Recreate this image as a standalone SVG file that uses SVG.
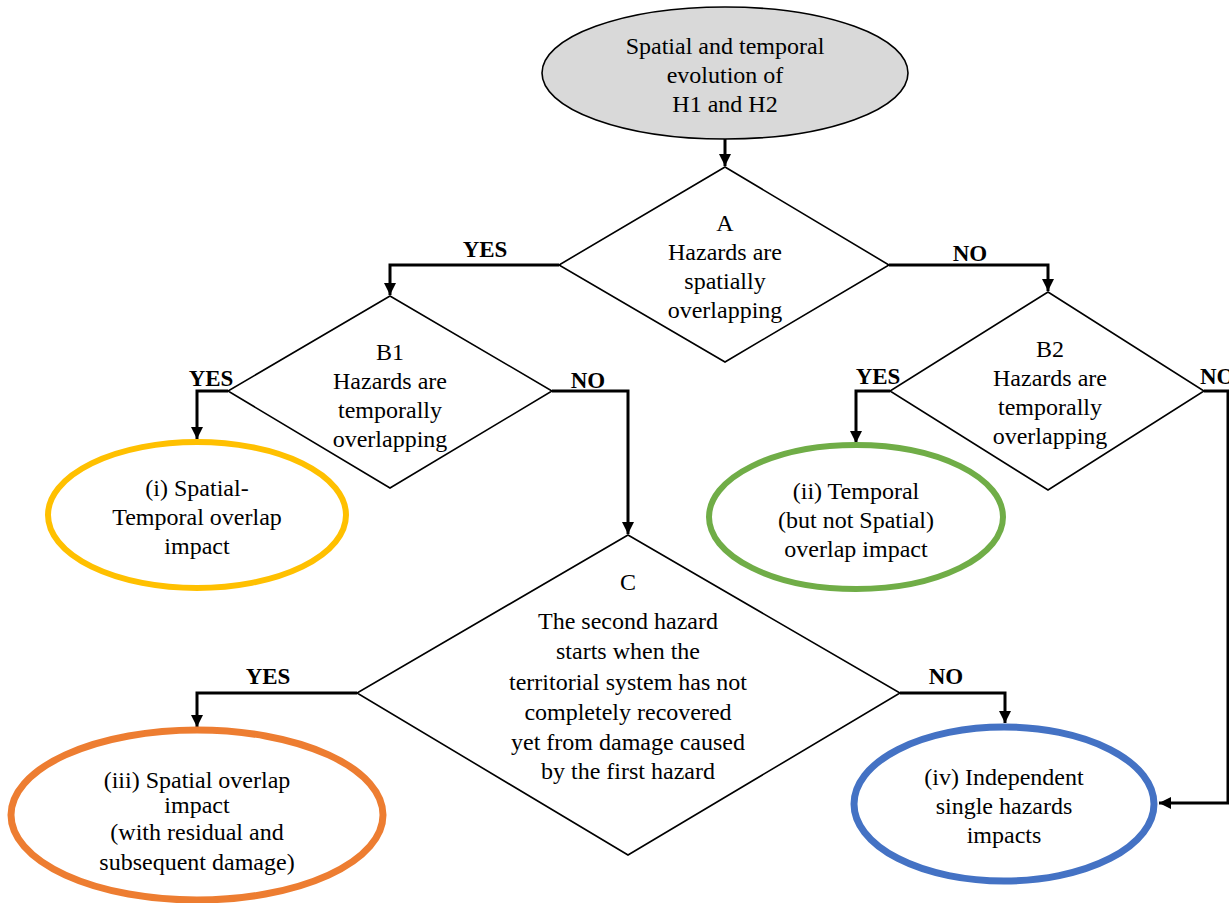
<svg xmlns="http://www.w3.org/2000/svg" width="1229" height="903" viewBox="0 0 1229 903">
<defs>
<style>
.t{font-family:"Liberation Serif","Times New Roman",serif;font-size:24px;fill:#000;text-anchor:middle}
.l{font-family:"Liberation Serif","Times New Roman",serif;font-size:23px;font-weight:bold;fill:#000;text-anchor:middle}
.d{fill:#fff;stroke:#000;stroke-width:1.6}
.c{fill:none;stroke:#000;stroke-width:3}
</style>
<marker id="ah" markerWidth="12" markerHeight="12" refX="10" refY="5" orient="auto" markerUnits="userSpaceOnUse" viewBox="0 0 10 10">
<path d="M0,0 L10,5 L0,10 z" fill="#000"/>
</marker>
</defs>
<rect width="1229" height="903" fill="#fff"/>

<g id="connectors">
<line class="c" x1="725" y1="139" x2="725" y2="166" marker-end="url(#ah)"/>
<polyline class="c" points="559,265 390,265 390,295" marker-end="url(#ah)"/>
<polyline class="c" points="889,265 1048,265 1048,291" marker-end="url(#ah)"/>
<polyline class="c" points="228,391 197,391 197,439" marker-end="url(#ah)"/>
<polyline class="c" points="552,391 628,391 628,534" marker-end="url(#ah)"/>
<polyline class="c" points="890,391 856,391 856,443" marker-end="url(#ah)"/>
<polyline class="c" points="357,693 197,693 197,727" marker-end="url(#ah)"/>
<polyline class="c" points="900,693 1005,693 1005,723" marker-end="url(#ah)"/>
<polyline class="c" points="1204,391 1228,391 1228,803 1159,803" marker-end="url(#ah)"/>
<text class="l" x="485" y="257">YES</text>
<text class="l" x="970" y="261">NO</text>
<text class="l" x="211" y="386">YES</text>
<text class="l" x="588" y="388">NO</text>
<text class="l" x="878" y="384">YES</text>
<text class="l" x="1200" y="384" style="text-anchor:start">NO</text>
<text class="l" x="268" y="684">YES</text>
<text class="l" x="946" y="684">NO</text>
</g>

<g id="start">
<ellipse cx="725" cy="73" rx="183" ry="66" fill="#d9d9d9" stroke="#000" stroke-width="1.6"/>
<text class="t" x="725" y="54">Spatial and temporal</text>
<text class="t" x="725" y="83">evolution of</text>
<text class="t" x="725" y="112">H1 and H2</text>
</g>

<g id="A">
<polygon class="d" points="725,167 889,265 725,362 559,265"/>
<text class="t" x="725" y="231">A</text>
<text class="t" x="725" y="260">Hazards are</text>
<text class="t" x="725" y="289">spatially</text>
<text class="t" x="725" y="318">overlapping</text>
</g>

<g id="B1">
<polygon class="d" points="390,296 552,391 390,488 228,391"/>
<text class="t" x="390" y="360">B1</text>
<text class="t" x="390" y="389">Hazards are</text>
<text class="t" x="390" y="418">temporally</text>
<text class="t" x="390" y="447">overlapping</text>
</g>

<g id="B2">
<polygon class="d" points="1048,292 1204,391 1048,490 890,391"/>
<text class="t" x="1050" y="357">B2</text>
<text class="t" x="1050" y="386">Hazards are</text>
<text class="t" x="1050" y="415">temporally</text>
<text class="t" x="1050" y="444">overlapping</text>
</g>

<g id="C">
<polygon class="d" points="628,535 900,693 628,855 357,693"/>
<text class="t" x="628" y="590">C</text>
<text class="t" x="628" y="629">The second hazard</text>
<text class="t" x="628" y="659">starts when the</text>
<text class="t" x="628" y="690">territorial system has not</text>
<text class="t" x="628" y="720">completely recovered</text>
<text class="t" x="628" y="750">yet from damage caused</text>
<text class="t" x="628" y="779">by the first hazard</text>
</g>

<g id="i">
<ellipse cx="197" cy="515" rx="149" ry="73" fill="#fff" stroke="#FFC000" stroke-width="6"/>
<text class="t" x="197" y="496">(i) Spatial-</text>
<text class="t" x="197" y="525">Temporal overlap</text>
<text class="t" x="197" y="554">impact</text>
</g>

<g id="ii">
<ellipse cx="856" cy="517" rx="147" ry="72" fill="#fff" stroke="#70AD47" stroke-width="6"/>
<text class="t" x="856" y="499">(ii) Temporal</text>
<text class="t" x="856" y="528">(but not Spatial)</text>
<text class="t" x="856" y="557">overlap impact</text>
</g>

<g id="iii">
<ellipse cx="197" cy="815" rx="186" ry="85" fill="#fff" stroke="#ED7D31" stroke-width="7"/>
<text class="t" x="197" y="788">(iii) Spatial overlap</text>
<text class="t" x="197" y="813">impact</text>
<text class="t" x="197" y="840">(with residual and</text>
<text class="t" x="197" y="870">subsequent damage)</text>
</g>

<g id="iv">
<ellipse cx="1004" cy="804" rx="150" ry="77" fill="#fff" stroke="#4472C4" stroke-width="7"/>
<text class="t" x="1004" y="785">(iv) Independent</text>
<text class="t" x="1004" y="814">single hazards</text>
<text class="t" x="1004" y="843">impacts</text>
</g>
</svg>
